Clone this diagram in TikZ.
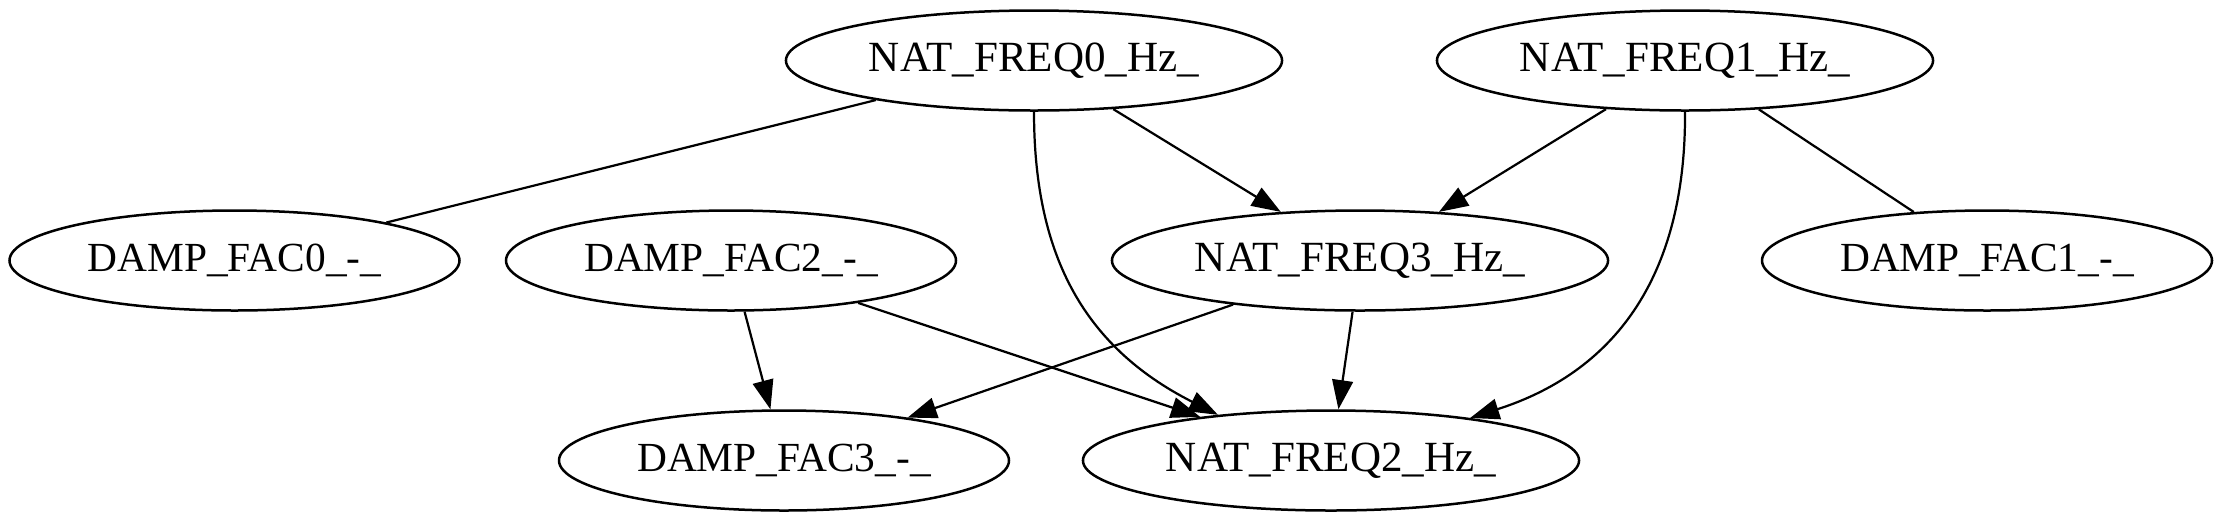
\documentclass[tikz,border=0pt]{standalone}
\usepackage{fontspec}
\setmainfont{Liberation Serif}
\usetikzlibrary{arrows.meta,shapes.geometric}
\tikzset{
  natnode/.style={draw, ellipse, line width=0.9pt, inner sep=0pt,
    minimum width=178.6pt, minimum height=36pt,
    font=\fontsize{15.5}{18}\selectfont, text height=10.2pt, text depth=2pt},
  dampnode/.style={draw, ellipse, line width=0.9pt, inner sep=0pt,
    minimum width=162pt, minimum height=36pt,
    font=\fontsize{14.9}{18}\selectfont, text height=9.8pt, text depth=2pt},
  plainedge/.style={line width=0.8pt},
  arrowedge/.style={line width=0.8pt, -{Triangle[length=10.5pt,width=7.5pt]}}
}
\begin{document}
\begin{tikzpicture}[x=0.36pt, y=-0.36pt]
\useasboundingbox (0,0) rectangle (2223,522);
% top row
\node[natnode] (NF0) at (1034,60.5) {NAT\_FREQ0\_Hz\_};
\node[natnode] (NF1) at (1685,60.5) {NAT\_FREQ1\_Hz\_};
% middle row
\node[dampnode] (DF0) at (234.5,260.5) {DAMP\_FAC0\_-\_};
\node[dampnode] (DF2) at (731,260.5) {DAMP\_FAC2\_-\_};
\node[natnode] (NF3) at (1360,260.5) {NAT\_FREQ3\_Hz\_};
\node[dampnode] (DF1) at (1987,260.5) {DAMP\_FAC1\_-\_};
% bottom row
\node[dampnode] (DF3) at (784,460.5) {DAMP\_FAC3\_-\_};
\node[natnode] (NF2) at (1331,460.5) {NAT\_FREQ2\_Hz\_};
% edges
\draw[plainedge] (NF0) -- (DF0);
\draw[plainedge] (NF1) -- (DF1);
\draw[arrowedge] (NF0) -- (NF3);
\draw[arrowedge] (NF1) -- (NF3);
\draw[arrowedge] (NF0.south) .. controls (1034,250) and (1080,345) .. (NF2.158);
\draw[arrowedge] (NF1.south) .. controls (1686,270) and (1620,370) .. (NF2.17);
\draw[arrowedge] (DF2) -- (DF3);
\draw[arrowedge] (DF2) -- (NF2);
\draw[arrowedge] (NF3) -- (DF3);
\draw[arrowedge] (NF3) -- (NF2);
\end{tikzpicture}
\end{document}
